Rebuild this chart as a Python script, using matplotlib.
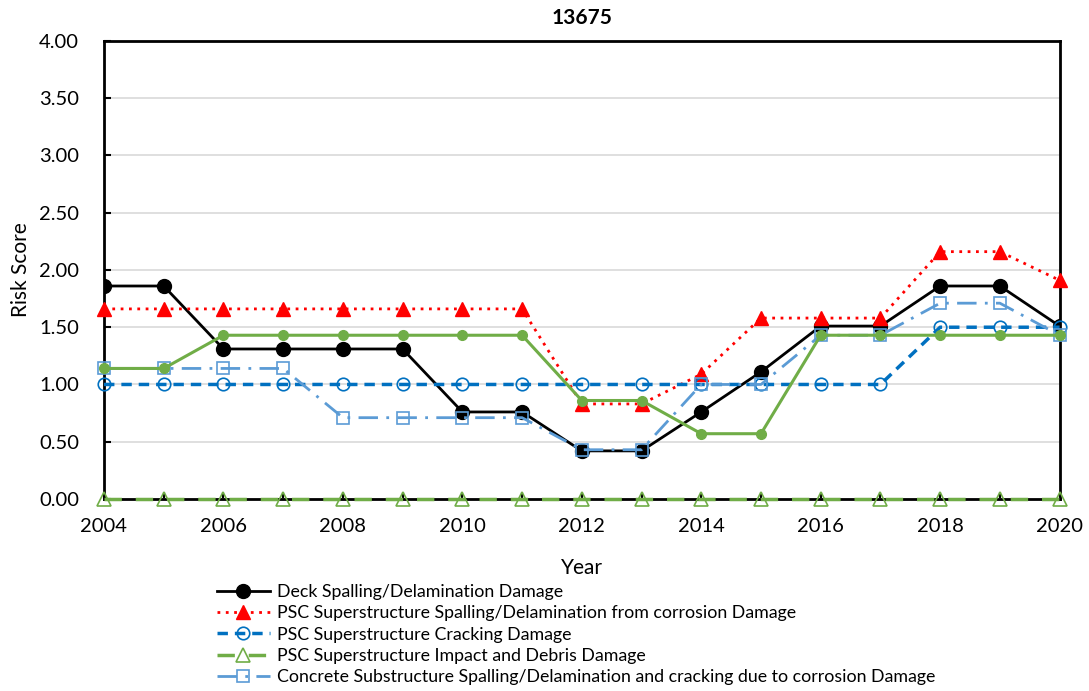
import matplotlib.pyplot as plt

years = list(range(2004, 2021))

deck = [1.86, 1.86, 1.31, 1.31, 1.31, 1.31, 0.76, 0.76, 0.42, 0.42,
        0.76, 1.11, 1.51, 1.51, 1.86, 1.86, 1.51]
psc_spall = [1.66, 1.66, 1.66, 1.66, 1.66, 1.66, 1.66, 1.66, 0.83, 0.83,
             1.09, 1.58, 1.58, 1.58, 2.16, 2.16, 1.91]
psc_crack = [1.0] * 14 + [1.5, 1.5, 1.5]
psc_impact = [0.0] * 17
sub_spall = [1.14, 1.14, 1.14, 1.14, 0.71, 0.71, 0.71, 0.71, 0.43, 0.43,
             1.0, 1.0, 1.43, 1.43, 1.71, 1.71, 1.43]
unlabeled = [1.14, 1.14, 1.43, 1.43, 1.43, 1.43, 1.43, 1.43, 0.86, 0.86,
             0.57, 0.57, 1.43, 1.43, 1.43, 1.43, 1.43]

labels = ['Deck Spalling/Delamination Damage',
          'PSC Superstructure Spalling/Delamination from corrosion Damage',
          'PSC Superstructure Cracking Damage',
          'PSC Superstructure Impact and Debris Damage',
          'Concrete Substructure Spalling/Delamination and cracking due to corrosion Damage']

plt.rcParams['font.family'] = ['Lato', 'DejaVu Sans']

fig = plt.figure(figsize=(10.89, 6.91), dpi=100)
ax = fig.add_axes([0.0955, 0.2779, 0.8775, 0.6628])

ax.plot(years, deck, color='black', lw=2, marker='o', ms=10, label=labels[0], zorder=3)
ax.plot(years, psc_spall, color='#ff0000', lw=2, ls=(0, (1, 2)), marker='^', ms=10,
        label=labels[1], zorder=3, clip_on=False)
ax.plot(years, psc_crack, color='#0070c0', lw=2.5, ls=(0, (3, 2)), marker='o', ms=9,
        mfc='none', mec='#0070c0', mew=1.2, label=labels[2], zorder=4, clip_on=False)
ax.plot(years, psc_impact, color='#70ad47', lw=2.5, ls=(0, (5, 4)), marker='^', ms=10,
        mfc='none', mec='#70ad47', mew=1.2, label=labels[3], zorder=4, clip_on=False)
ax.plot(years, sub_spall, color='#5b9bd5', lw=2, ls=(0, (7, 3, 1, 3)), marker='s', ms=9,
        mfc='none', mec='#5b9bd5', mew=1.2, label=labels[4], zorder=5, clip_on=False)
ax.plot(years, unlabeled, color='#70ad47', lw=2.2, marker='o', ms=7, zorder=6, clip_on=False)

ax.set_xlim(2004, 2020)
ax.set_ylim(0, 4)
ax.set_xticks(range(2004, 2021, 2))
ax.set_xticks(years, minor=True)
ax.set_yticks([i * 0.5 for i in range(9)])
ax.set_yticklabels([f'{i * 0.5:.2f}' for i in range(9)])
ax.tick_params(axis='both', which='both', labelsize=14.5, direction='in', length=5, width=1.5)
ax.tick_params(axis='x', pad=14)
ax.tick_params(axis='y', pad=18)

ax.grid(axis='y', color='#d9d9d9', lw=1.2)
ax.set_axisbelow(True)
for s in ax.spines.values():
    s.set_linewidth(2)

ax.set_title('13675', fontsize=15, fontweight='bold', pad=12)
ax.set_ylabel('Risk Score', fontsize=15, labelpad=6)
ax.set_xlabel('Year', fontsize=15, labelpad=16)

fig.legend(loc='upper left', bbox_to_anchor=(0.199, 0.155), frameon=False,
           fontsize=12.8, handlelength=3.0, labelspacing=0.3, handletextpad=0.4,
           borderaxespad=0, borderpad=0)

fig.savefig('out.png', dpi=100)
